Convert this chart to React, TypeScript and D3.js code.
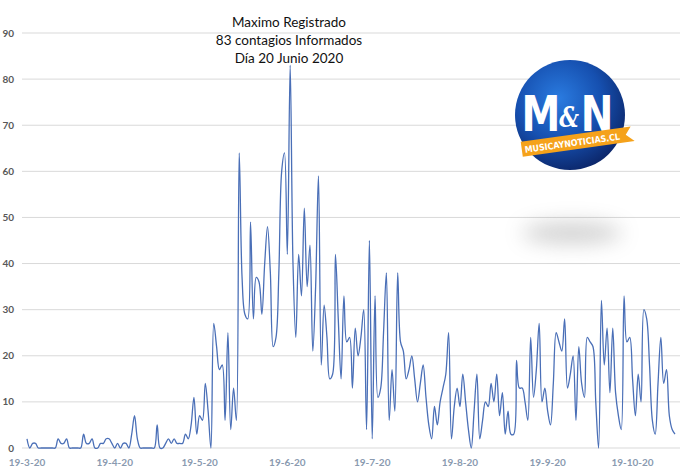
import React from "react";
import * as d3 from "d3";

const startDate = new Date(2020, 2, 19);

const cases: number[] = [
  2, 0, 1, 1, 0, 0, 0, 0, 0, 0,
  0, 2, 1, 1, 2, 0, 0, 0, 0, 0,
  3, 1, 1, 2, 0, 0, 1, 1, 2, 2,
  1, 0, 1, 0, 1, 1, 0, 3, 7, 2,
  0, 0, 0, 0, 0, 0, 5, 0, 0, 1,
  2, 1, 2, 1, 1, 1, 3, 2, 5, 11,
  3, 7, 6, 14, 8, 0, 27, 22, 17, 18,
  6, 25, 4, 13, 6, 64, 37, 29, 28, 49,
  28, 37, 36, 29, 40, 48, 38, 22, 24, 38,
  60, 64, 42, 83, 40, 24, 42, 33, 52, 35,
  44, 21, 35, 59, 18, 31, 24, 15, 16, 42,
  28, 15, 33, 23, 24, 13, 26, 20, 24, 30,
  4, 45, 2, 33, 11, 13, 25, 38, 6, 17,
  8, 38, 23, 21, 15, 17, 20, 15, 10, 14,
  18, 11, 5, 2, 9, 5, 10, 13, 16, 25,
  2, 9, 13, 9, 16, 10, 4, 0, 8, 16,
  2, 6, 10, 9, 14, 10, 16, 7, 12, 3,
  8, 3, 3, 19, 13, 13, 10, 6, 24, 11,
  17, 27, 10, 13, 8, 5, 14, 25, 23, 21,
  28, 13, 16, 20, 6, 22, 14, 11, 24, 23,
  22, 10, 0, 32, 18, 26, 12, 26, 12, 7,
  4, 33, 23, 24, 15, 7, 16, 10, 30, 28,
  18, 6, 3, 14, 24, 14, 17, 7, 4, 3,
];

const yTicks: number[] = [0, 10, 20, 30, 40, 50, 60, 70, 80, 90];
const xTickLabels: string[] = [
  "19-3-20", "19-4-20", "19-5-20", "19-6-20",
  "19-7-20", "19-8-20", "19-9-20", "19-10-20",
];
const titleLines: string[] = [
  "Maximo Registrado",
  "83 contagios Informados",
  "Día 20 Junio 2020",
];

const W = 699;
const H = 476;

export default function App() {
  const dates = cases.map((_, i) => d3.timeDay.offset(startDate, i));
  const x = d3
    .scaleTime()
    .domain([dates[0], dates[dates.length - 1]])
    .range([27, 675]);
  const y = d3.scaleLinear().domain([0, 90]).range([448, 33]);
  const parse = d3.timeParse("%d-%m-%y");

  const line = d3
    .line<number>()
    .x((_, i) => x(dates[i]))
    .y((d) => y(d))
    .curve(d3.curveCatmullRom.alpha(0.5));

  const font = "Lato, 'Open Sans', sans-serif";

  return (
    <svg
      width={W}
      height={H}
      style={{ position: "absolute", left: 0, top: 0, background: "#fff" }}
    >
      <defs>
        <radialGradient id="logoGrad" cx="40%" cy="35%" r="70%">
          <stop offset="0%" stopColor="#2a7be0" />
          <stop offset="55%" stopColor="#1650b0" />
          <stop offset="100%" stopColor="#0b2466" />
        </radialGradient>
        <filter id="blur" x="-50%" y="-100%" width="200%" height="300%">
          <feGaussianBlur stdDeviation="10" />
        </filter>
      </defs>

      {/* gridlines */}
      {yTicks.map((t) => (
        <line
          key={t}
          x1={22}
          x2={680}
          y1={y(t)}
          y2={y(t)}
          stroke="#d9d9d9"
          strokeWidth={1}
        />
      ))}

      {/* y labels */}
      {yTicks.map((t) => (
        <text
          key={t}
          x={14}
          y={y(t) + 3.5}
          textAnchor="end"
          fontFamily={font}
          fontWeight={700}
          fontSize={10}
          fill="#595959"
        >
          {t}
        </text>
      ))}

      {/* x labels */}
      {xTickLabels.map((l) => (
        <text
          key={l}
          x={x(parse(l) as Date)}
          y={466}
          textAnchor="middle"
          fontFamily={font}
          fontWeight={700}
          fontSize={10}
          fill="#8a9ab0"
        >
          {l}
        </text>
      ))}

      {/* shadow of logo */}
      <ellipse
        cx={572}
        cy={233}
        rx={50}
        ry={11}
        fill="#808080"
        opacity={0.35}
        filter="url(#blur)"
      />

      {/* data line */}
      <path
        d={line(cases) || ""}
        fill="none"
        stroke="#4a6fb7"
        strokeWidth={1.3}
        strokeLinejoin="round"
      />

      {/* title */}
      {titleLines.map((t, i) => (
        <text
          key={t}
          x={289}
          y={26.5 + i * 18}
          textAnchor="middle"
          fontFamily={font}
          fontSize={13.5}
          fill="#111"
        >
          {t}
        </text>
      ))}

      {/* logo */}
      <g>
        <circle cx={570} cy={115} r={55} fill="url(#logoGrad)" />
        <g transform="translate(569,131) scale(0.78,1)">
          <text
            x={-36}
            y={0}
            textAnchor="middle"
            fontFamily="'DejaVu Sans', sans-serif"
            fontWeight={700}
            fontSize={50}
            fill="#fff"
          >
            M
          </text>
          <text
            x={0}
            y={-4}
            textAnchor="middle"
            fontFamily="'DejaVu Serif', serif"
            fontStyle="italic"
            fontWeight={700}
            fontSize={28}
            fill="#fff"
          >
            &amp;
          </text>
          <text
            x={36}
            y={0}
            textAnchor="middle"
            fontFamily="'DejaVu Sans', sans-serif"
            fontWeight={700}
            fontSize={50}
            fill="#fff"
          >
            N
          </text>
        </g>
        <g transform="rotate(-8 577 140)">
          <path
            d="M521,134 L632,134 L626,141.5 L634,149 L521,149 Z"
            fill="#f5a21b"
          />
          <text
            x={572}
            y={145.5}
            textAnchor="middle"
            fontFamily="'DejaVu Sans', sans-serif"
            fontWeight={700}
            fontSize={9}
            fill="#fff"
            textLength={96}
            lengthAdjust="spacingAndGlyphs"
          >
            MUSICAYNOTICIAS.CL
          </text>
        </g>
      </g>
    </svg>
  );
}
